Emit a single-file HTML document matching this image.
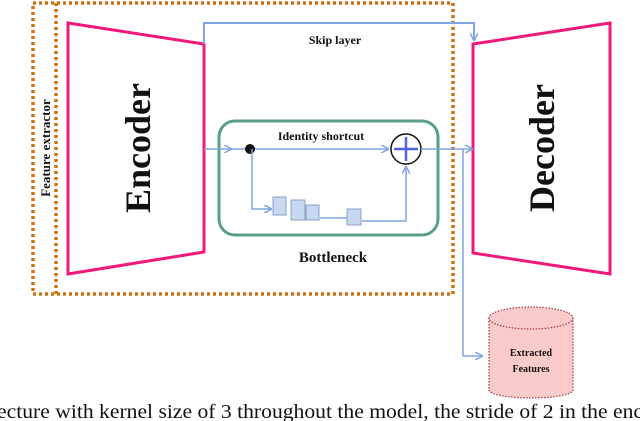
<!DOCTYPE html>
<html><head><style>
body{margin:0;background:#fff;width:640px;height:421px;overflow:hidden}
svg{display:block}
text{font-family:"Liberation Serif",serif;font-weight:bold;fill:#111}
</style></head><body>
<svg width="640" height="421" viewBox="0 0 640 421">
<defs>
<marker id="a" markerWidth="8" markerHeight="8" refX="7" refY="4" orient="auto" markerUnits="userSpaceOnUse"><path d="M0,0 L8,4 L0,8" fill="none" stroke="#7fa6e0" stroke-width="1.5"/></marker>
</defs>
<rect x="33" y="3" width="420" height="291" fill="none" stroke="#d07010" stroke-width="3.5" stroke-dasharray="3,3"/>
<line x1="56" y1="3" x2="56" y2="294" stroke="#d07010" stroke-width="3.5" stroke-dasharray="3,3"/>
<text transform="translate(50,148) rotate(-90)" text-anchor="middle" font-size="13">Feature extractor</text>
<polygon points="68,23 204,44 204,252 68,274" fill="#fff" stroke="#f0187a" stroke-width="3"/>
<text transform="translate(150,148) rotate(-90)" text-anchor="middle" font-size="36">Encoder</text>
<polygon points="473,44 610,23 610,274 473,253" fill="#fff" stroke="#f0187a" stroke-width="3"/>
<text transform="translate(554,148) rotate(-90)" text-anchor="middle" font-size="36">Decoder</text>
<polyline points="204,44 204,23 474,23 474,40" fill="none" stroke="#7fa6e0" stroke-width="2" marker-end="url(#a)"/>
<text x="335" y="44" text-anchor="middle" font-size="12">Skip layer</text>
<rect x="219" y="121" width="219" height="114" rx="16" fill="none" stroke="#5a9e8a" stroke-width="3"/>
<line x1="204" y1="149" x2="231" y2="149" stroke="#7fa6e0" stroke-width="1.5" marker-end="url(#a)"/>
<line x1="231" y1="149" x2="388" y2="149" stroke="#7fa6e0" stroke-width="1.5" marker-end="url(#a)"/>
<circle cx="250" cy="149" r="5" fill="#111"/>
<text x="321" y="140" text-anchor="middle" font-size="12">Identity shortcut</text>
<circle cx="406" cy="149" r="15" fill="#fff" stroke="#111" stroke-width="1.5"/>
<line x1="406" y1="137" x2="406" y2="161" stroke="#5560e0" stroke-width="2.5"/>
<line x1="394" y1="149" x2="418" y2="149" stroke="#5560e0" stroke-width="2.5"/>
<polyline points="252,149 252,209 271,209" fill="none" stroke="#7fa6e0" stroke-width="1.5" marker-end="url(#a)"/>
<polyline points="320,218 347,218" fill="none" stroke="#7fa6e0" stroke-width="1.5"/>
<polyline points="362,221 406,221 406,167" fill="none" stroke="#7fa6e0" stroke-width="1.5" marker-end="url(#a)"/>
<g fill="#c8d8f0" stroke="#8aa0c8" stroke-width="1">
<rect x="273" y="197" width="13" height="18"/>
<rect x="291" y="200" width="14" height="20"/>
<rect x="306" y="205" width="13" height="15"/>
<rect x="347" y="209" width="14" height="16"/>
</g>
<text x="333" y="262" text-anchor="middle" font-size="15">Bottleneck</text>
<line x1="421" y1="149" x2="472" y2="149" stroke="#7fa6e0" stroke-width="1.5" marker-end="url(#a)"/>
<polyline points="463,149 463,356 482,356" fill="none" stroke="#7fa6e0" stroke-width="1.5" marker-end="url(#a)"/>
<path d="M489,318 L489,390 A42,8 0 0 0 573,390 L573,318" fill="#fbcaca" stroke="#a03a3a" stroke-width="1.2" stroke-dasharray="1.5,1.5"/>
<ellipse cx="531" cy="318" rx="42" ry="11" fill="#fbcaca" stroke="#a03a3a" stroke-width="1.2" stroke-dasharray="1.5,1.5"/>
<text x="531" y="356" text-anchor="middle" font-size="10">Extracted</text>
<text x="531" y="372" text-anchor="middle" font-size="10">Features</text>
<text x="-3" y="418" font-size="20" textLength="646" lengthAdjust="spacingAndGlyphs" style="font-weight:normal">ecture with kernel size of 3 throughout the model, the stride of 2 in the enc</text>
</svg>
</body></html>
